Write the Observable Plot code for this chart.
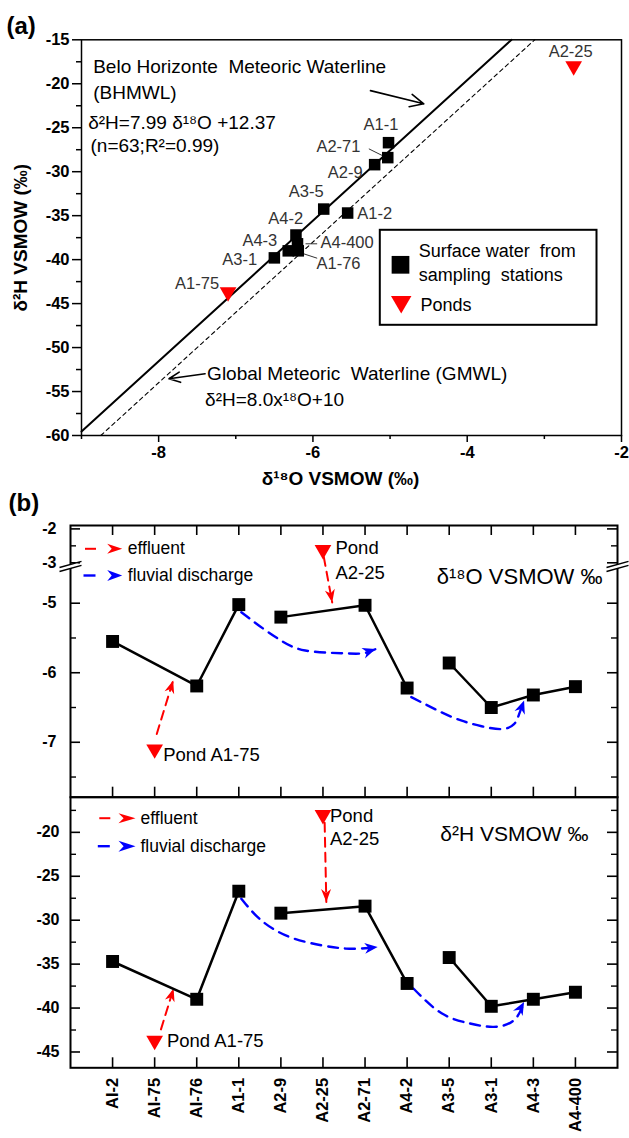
<!DOCTYPE html>
<html><head><meta charset="utf-8">
<script src="https://cdn.jsdelivr.net/npm/d3@7"></script>
<script src="https://cdn.jsdelivr.net/npm/@observablehq/plot@0.6"></script>
<style>
html,body{margin:0;padding:0;background:#fff;}
#fig{position:relative;width:629px;height:1138px;overflow:hidden;background:#fff;}
#fig svg{position:absolute;left:0;}
</style></head><body><div id="fig"></div>
<script>
// ===================== DATA =====================
const categories = ["AI-2","AI-75","AI-76","A1-1","A2-9","A2-25","A2-71","A4-2","A3-5","A3-1","A4-3","A4-400"];
const sampleNames = ["A1-2","A1-75","A1-76","A1-1","A2-9","A2-25","A2-71","A4-2","A3-5","A3-1","A4-3","A4-400"];
const sampleType = ["station","pond","station","station","station","pond","station","station","station","station","station","station"];
const d18O = [-5.55,-7.10,-6.19,-5.02,-5.20,-2.62,-5.03,-6.22,-5.86,-6.50,-6.32,-6.20];
const d2H  = [-34.7,-43.7,-39.0,-26.7,-29.2,-18.0,-28.4,-37.2,-34.25,-39.8,-39.0,-38.2];
const lineGroup = [1,null,1,1,2,null,2,2,3,3,3,3];

// meteoric water lines (from the equations printed on the chart)
const bhmwl = [7.99, 12.37];   // slope, intercept
const gmwl  = [8.0, 10];

// tick values
const xTicksA = [-8,-6,-4,-2], xMinorA = [-9,-7,-5,-3];
const yTicksA = [-15,-20,-25,-30,-35,-40,-45,-50,-55,-60];
const yMinorA = [-17.5,-22.5,-27.5,-32.5,-37.5,-42.5,-47.5,-52.5,-57.5];
const yTicksO = [-2,-3,-5,-6,-7], yMinorO = [-2.5,-5.5,-6.5,-7.5];
const yTicksH = [-20,-25,-30,-35,-40,-45], yMinorH = [-17.5,-22.5,-27.5,-32.5,-37.5,-42.5];

// broken δ18O axis: lower part, upper part
const axisO = {low: [-7.79, -4.486], high: [-3.05, -1.90]};

// panel (b) annotation paths: [category position, value]
const effluentO = [[[2.05,-6.88],[2.44,-6.11]], [[6.02,-2.83],[6.22,-4.99]]];
const fluvialO  = [[[4.06,-5.13],[4.5,-5.33],[5.01,-5.54],[5.58,-5.68],[6.44,-5.72],[6.96,-5.72],[7.25,-5.66]],
                   [[8.1,-6.35],[8.82,-6.57],[9.3,-6.69],[9.77,-6.77],[10.25,-6.81],[10.54,-6.74],[10.66,-6.6],[10.78,-6.40]]];
const effluentH = [[[2.15,-42.43],[2.45,-37.77]], [[6.04,-18.9],[6.08,-27.93]]];
const fluvialH  = [[[4.06,-27.55],[4.53,-30.0],[5.2,-31.9],[5.96,-32.85],[6.54,-33.23],[7.0,-33.2],[7.3,-33.05]],
                   [[8.15,-37.77],[8.82,-40.6],[9.49,-41.75],[10.06,-42.14],[10.54,-41.38],[10.78,-39.3]]];

// panel (a) annotation arrows / leader lines in data coordinates
const bhArrow = [[-5.254,-20.78],[-4.563,-22.28]];
const gmArrow = [[-7.398,-52.98],[-7.866,-53.55]];
const leaders = [[[-5.275,-27.40],[-5.101,-28.16]], [[-6.096,-38.2],[-5.945,-38.2]], [[-6.118,-39.34],[-5.945,-39.84]]];

// ===================== HELPERS =====================
const FONT = "'Liberation Sans', Arial, Helvetica, sans-serif";
const STYLE = {fontFamily: FONT, background: "transparent", overflow: "visible", color: "#000"};
const fig = document.getElementById("fig");
function place(svg, top){ svg.style.top = top + "px"; fig.appendChild(svg); }

const rows = categories.map((c, i) => ({cat: c, pos: i + 1, name: sampleNames[i], type: sampleType[i], o: d18O[i], h: d2H[i], g: lineGroup[i]}));
const stationRows = rows.filter(r => r.type === "station");
const pondRows = rows.filter(r => r.type === "pond");
const byName = n => rows.filter(r => r.name === n);

const triDown = {draw(ctx, size){ const y = Math.sqrt(size / (3 * Math.sqrt(3))); const s = Math.sqrt(3) * y;
  ctx.moveTo(0, 2 * y); ctx.lineTo(-s, -y); ctx.lineTo(s, -y); ctx.closePath(); }};
function headSymbol(theta, len, half, notch = 0.3) {
  const c = Math.cos(theta), s = Math.sin(theta);
  const P = (x, y) => [x * c - y * s, x * s + y * c];
  return {draw(ctx){ const p = [P(0,0), P(-len,-half), P(-len*(1-notch),0), P(-len,half)];
    ctx.moveTo(...p[0]); for (let k = 1; k < p.length; k++) ctx.lineTo(...p[k]); ctx.closePath(); }};
}
const dashSym = L => ({draw(ctx){ ctx.moveTo(-L/2, 0); ctx.lineTo(L/2, 0); }});
const breakFill = {draw(ctx){ ctx.moveTo(-7,0.2); ctx.lineTo(7,-3.8); ctx.lineTo(7,0.2); ctx.lineTo(-7,4.2); ctx.closePath(); }};
const breakLines = {draw(ctx){ ctx.moveTo(-11,1.6); ctx.lineTo(11,-4.6); ctx.moveTo(-11,5.6); ctx.lineTo(11,-0.6); }};

// ===================== PANEL (a) =====================
const A = {w: 629, h: 490, top: 39.3, bottom: 55, left: 81, right: 8};
const bhLine = [[-9, bhmwl[0] * -9 + bhmwl[1]], [(-15 - bhmwl[1]) / bhmwl[0], -15]];
const gmLine = [[(-60 - gmwl[1]) / gmwl[0], -60], [(-15 - gmwl[1]) / gmwl[0], -15]];
const labelPos = {
  "A1-2": ["start", 9.6, 5.8], "A1-75": ["end", -9, -3.4], "A1-76": ["start", 18.2, 18],
  "A1-1": ["middle", -7.5, -12.2], "A2-9": ["end", -12, 13.8], "A2-25": ["middle", -3, -9],
  "A2-71": ["end", -27.3, -5.4], "A4-2": ["middle", -10.2, -11.2], "A3-5": ["end", 0, -11.9],
  "A3-1": ["end", -17.2, 7.6], "A4-3": ["end", -11, -5.3], "A4-400": ["start", 23, 4.4]
};
const fa = (text, dx, dy, o = {}) => Plot.text([text], {frameAnchor: "top-left", dx, dy, textAnchor: "start", lineAnchor: "bottom", fontSize: 19, ...o});

const plotA = Plot.plot({
  width: A.w, height: A.h, marginTop: A.top, marginBottom: A.bottom, marginLeft: A.left, marginRight: A.right,
  x: {domain: [-9, -2], axis: null}, y: {domain: [-60, -15], axis: null},
  style: STYLE,
  marks: [
    Plot.frame({stroke: "#000", strokeWidth: 1.5}),
    Plot.axisY({ticks: yTicksA, tickSize: 9, tickPadding: 3, tickFormat: d => String(d), fontSize: 16.5, fontWeight: "bold", strokeWidth: 1.5, label: null}),
    Plot.axisY({ticks: yMinorA, tickSize: 5, tickFormat: () => "", strokeWidth: 1.5, label: null}),
    Plot.axisX({ticks: xTicksA, tickSize: 7, tickPadding: 4, tickFormat: d => String(d), fontSize: 16.5, fontWeight: "bold", strokeWidth: 1.5, label: null}),
    Plot.axisX({ticks: xMinorA, tickSize: 4, tickFormat: () => "", strokeWidth: 1.5, label: null}),
    Plot.line(gmLine, {x: d => d[0], y: d => d[1], stroke: "#000", strokeWidth: 1.1, strokeDasharray: "4,3.5"}),
    Plot.line(bhLine, {x: d => d[0], y: d => d[1], stroke: "#000", strokeWidth: 2}),
    Plot.arrow([bhArrow], {x1: d => d[0][0], y1: d => d[0][1], x2: d => d[1][0], y2: d => d[1][1], stroke: "#000", strokeWidth: 1.6, headLength: 14, headAngle: 50}),
    Plot.arrow([gmArrow], {x1: d => d[0][0], y1: d => d[0][1], x2: d => d[1][0], y2: d => d[1][1], stroke: "#000", strokeWidth: 1.6, headLength: 14, headAngle: 50}),
    Plot.link(leaders, {x1: d => d[0][0], y1: d => d[0][1], x2: d => d[1][0], y2: d => d[1][1], stroke: "#333", strokeWidth: 1}),
    fa("Belo Horizonte  Meteoric Waterline", 11.7, 33.4),
    fa("(BHMWL)", 11.7, 58.9),
    fa("δ²H=7.99 δ¹⁸O +12.37", 6.7, 89),
    fa("(n=63;R²=0.99)", 9, 112.4),
    fa("Global Meteoric  Waterline (GMWL)", 125.6, 340),
    fa("δ²H=8.0x¹⁸O+10", 123.6, 365.7),
    Plot.dot(stationRows, {x: "o", y: "h", symbol: "square", r: 6.5, fill: "#000"}),
    Plot.dot(pondRows, {x: "o", y: "h", symbol: triDown, r: 6.2, fill: "#ff0000"}),
    ...Object.entries(labelPos).map(([n, [anchor, dx, dy]]) =>
      Plot.text(byName(n), {x: "o", y: "h", text: "name", textAnchor: anchor, dx, dy, lineAnchor: "bottom", fontSize: 16.5, fill: "#333"})),
    // legend box
    Plot.frame({insetLeft: 298.3, insetRight: 25, insetTop: 190, insetBottom: 110.7, stroke: "#000", strokeWidth: 2, fill: "#fff"}),
    Plot.dot([0], {frameAnchor: "top-left", dx: 319, dy: 225, symbol: "square", r: 10, fill: "#000"}),
    Plot.dot([0], {frameAnchor: "top-left", dx: 319.7, dy: 262, symbol: triDown, r: 7.6, fill: "#ff0000"}),
    fa("Surface water  from", 337.3, 216.7, {fontSize: 18}),
    fa("sampling  stations", 337.3, 240.7, {fontSize: 18}),
    fa("Ponds", 339, 271.4, {fontSize: 18}),
    // titles
    Plot.text(["δ²H VSMOW (‰)"], {frameAnchor: "left", dx: -61, rotate: -90, textAnchor: "middle", lineAnchor: "middle", fontSize: 19, fontWeight: "bold"}),
    Plot.text(["δ¹⁸O VSMOW (‰)"], {frameAnchor: "bottom", dx: -11, dy: 49, textAnchor: "middle", lineAnchor: "bottom", fontSize: 19, fontWeight: "bold"}),
    Plot.text(["(a)"], {frameAnchor: "top-left", dx: -75, dy: -6, textAnchor: "start", lineAnchor: "bottom", fontSize: 24, fontWeight: "bold"})
  ]
});
place(plotA, 0);

// ===================== PANEL (b) =====================
const B = {left: 70, right: 12, w: 629};
const ppx = (B.w - B.right - B.left) / 13;
const positions = d3.range(1, 13);
const sxB = d3.scaleLinear([0, 13], [B.left, B.w - B.right]);

// upper (δ18O) with broken axis: values are placed on a continuous display axis
const U = {h: 330, top: 55, bottom: 3.3};
const gapUnits = 0.043;          // visual gap of the axis break (display units)
const highRatio = 0.4876;        // compression of the part above the break
const brk = v => {
  const [l0, l1] = axisO.low, [h0] = axisO.high;
  if (v <= l1) return v;
  if (v >= h0) return l1 + gapUnits + (v - h0) * highRatio;
  return l1 + gapUnits * (v - l1) / (h0 - l1);
};
const upperDom = [axisO.low[0], brk(axisO.high[1])];
const syO = d3.scaleLinear(upperDom, [U.h - U.bottom, U.top]);
const tickLabelO = new Map(yTicksO.map(v => [+brk(v).toFixed(6), String(v)]));
const breakPos = axisO.low[1] + gapUnits / 2;

// lower (δ2H)
const L = {h: 348, top: 6.7, bottom: 70.7};
const lowerDom = [-46.8, -16.0];
const syH = d3.scaleLinear(lowerDom, [L.h - L.bottom, L.top]);

function annotationMarks(effluent, fluvial, sy, fy) {
  const eRows = effluent.flatMap((p, id) => p.map(([x, y]) => ({id, x, y: fy(y)})));
  const fRows = fluvial.flatMap((p, id) => p.map(([x, y]) => ({id, x, y: fy(y)})));
  const heads = (paths, color, len, half) => paths.map(p => {
    const [a, b] = p.slice(-2);
    const th = Math.atan2(sy(fy(b[1])) - sy(fy(a[1])), sxB(b[0]) - sxB(a[0]));
    return Plot.dot([b], {x: d => d[0], y: d => fy(d[1]), symbol: headSymbol(th, len, half), r: 2, fill: color, stroke: "none"});
  });
  return [
    Plot.line(fRows, {x: "x", y: "y", z: "id", curve: "natural", stroke: "#0000ff", strokeWidth: 2.4, strokeDasharray: "10,7"}),
    ...heads(fluvial, "#0000ff", 13, 5.5),
    Plot.line(eRows, {x: "x", y: "y", z: "id", stroke: "#ff0000", strokeWidth: 2, strokeDasharray: "9,6"}),
    ...heads(effluent, "#ff0000", 13, 5)
  ];
}
function frameTicks(sy, majors, minors, yTop, yBottom, topTicks, bottomTicks) {
  const m = [];
  const tl = 10 / ppx, sl = 6 / ppx;
  m.push(Plot.ruleY(majors, {y: d => d, x1: 0, x2: tl, strokeWidth: 1.6}));
  m.push(Plot.ruleY(majors, {y: d => d, x1: 13 - tl, x2: 13, strokeWidth: 1.6}));
  m.push(Plot.ruleY(minors, {y: d => d, x1: 0, x2: sl, strokeWidth: 1.4}));
  m.push(Plot.ruleY(minors, {y: d => d, x1: 13 - sl, x2: 13, strokeWidth: 1.4}));
  if (topTicks) m.push(Plot.ruleX(positions, {x: d => d, y1: yTop, y2: sy.invert(sy(yTop) + 10), strokeWidth: 1.6}));
  if (bottomTicks) m.push(Plot.ruleX(positions, {x: d => d, y1: yBottom, y2: sy.invert(sy(yBottom) - 10), strokeWidth: 1.6}));
  return m;
}
const legendMarks = (ry, by, dashCx, tipX, textX, len) => [
  Plot.dot([0], {frameAnchor: "top-left", dx: dashCx, dy: ry, symbol: dashSym(11), r: 2, fill: "none", stroke: "#ff0000", strokeWidth: 2}),
  Plot.dot([0], {frameAnchor: "top-left", dx: tipX, dy: ry, symbol: headSymbol(0, len, 5), r: 2, fill: "#ff0000", stroke: "none"}),
  Plot.text(["effluent"], {frameAnchor: "top-left", dx: textX, dy: ry + 5.5, textAnchor: "start", lineAnchor: "bottom", fontSize: 17.5}),
  Plot.dot([0], {frameAnchor: "top-left", dx: dashCx - 1, dy: by, symbol: dashSym(12), r: 2, fill: "none", stroke: "#0000ff", strokeWidth: 2.4}),
  Plot.dot([0], {frameAnchor: "top-left", dx: tipX, dy: by, symbol: headSymbol(0, len, 5.5), r: 2, fill: "#0000ff", stroke: "none"}),
  Plot.text(["fluvial discharge"], {frameAnchor: "top-left", dx: textX, dy: by + 5.5, textAnchor: "start", lineAnchor: "bottom", fontSize: 17.5})
];

const id = v => v;
const upper = Plot.plot({
  width: B.w, height: U.h, marginTop: U.top, marginBottom: U.bottom, marginLeft: B.left, marginRight: B.right,
  x: {domain: [0, 13], axis: null},
  y: {domain: upperDom, axis: null},
  style: STYLE,
  marks: [
    Plot.frame({stroke: "#000", strokeWidth: 2}),
    Plot.axisY({ticks: yTicksO.map(brk), tickSize: 0, tickPadding: 14, tickFormat: d => tickLabelO.get(+d.toFixed(6)) ?? "", fontSize: 16, fontWeight: "bold", label: null}),
    ...frameTicks(syO, yTicksO.map(brk), yMinorO.map(brk), upperDom[1], upperDom[0], true, true),
    Plot.dot([0, 13], {x: d => d, y: () => breakPos, symbol: breakFill, r: 2, fill: "#fff", stroke: "none"}),
    Plot.dot([0, 13], {x: d => d, y: () => breakPos, symbol: breakLines, r: 2, fill: "none", stroke: "#000", strokeWidth: 1.5}),
    ...legendMarks(23.3, 50, 20, 51.7, 57.3, 15),
    Plot.text(["δ¹⁸O VSMOW ‰"], {frameAnchor: "top-right", dx: -15, dy: 58, textAnchor: "end", lineAnchor: "bottom", fontSize: 22}),
    ...annotationMarks(effluentO, fluvialO, syO, brk),
    Plot.line(stationRows, {x: "pos", y: d => brk(d.o), z: "g", stroke: "#000", strokeWidth: 2.5}),
    Plot.dot(stationRows, {x: "pos", y: d => brk(d.o), symbol: "square", r: 7.3, fill: "#000"}),
    Plot.dot(pondRows, {x: "pos", y: d => brk(d.o), symbol: triDown, r: 6.2, fill: "#ff0000"}),
    Plot.text(byName("A1-75"), {x: "pos", y: d => brk(d.o), text: () => "Pond A1-75", dx: 8.5, dy: 11.3, textAnchor: "start", lineAnchor: "bottom", fontSize: 18.5}),
    Plot.text(byName("A2-25"), {x: "pos", y: d => brk(d.o), text: () => "Pond", dx: 12.5, dy: 3.9, textAnchor: "start", lineAnchor: "bottom", fontSize: 18.5}),
    Plot.text(byName("A2-25"), {x: "pos", y: d => brk(d.o), text: () => "A2-25", dx: 12.5, dy: 28.9, textAnchor: "start", lineAnchor: "bottom", fontSize: 18.5}),
    Plot.text(["(b)"], {frameAnchor: "top-left", dx: -62, dy: -15, textAnchor: "start", lineAnchor: "bottom", fontSize: 24, fontWeight: "bold"})
  ]
});
place(upper, 470);

const lower = Plot.plot({
  width: B.w, height: L.h, marginTop: L.top, marginBottom: L.bottom, marginLeft: B.left, marginRight: B.right,
  x: {domain: [0, 13], axis: null},
  y: {domain: lowerDom, axis: null},
  style: STYLE,
  marks: [
    Plot.frame({stroke: "#000", strokeWidth: 2}),
    Plot.axisY({ticks: yTicksH, tickSize: 0, tickPadding: 11, tickFormat: d => String(d), fontSize: 16, fontWeight: "bold", label: null}),
    Plot.axisX({ticks: positions, tickSize: 0, tickPadding: 10, tickRotate: -90, tickFormat: i => categories[i - 1], fontSize: 16.5, fontWeight: "bold", label: null}),
    ...frameTicks(syH, yTicksH, yMinorH, lowerDom[1], lowerDom[0], false, true),
    ...legendMarks(21, 49, 34.3, 65, 70, 17),
    Plot.text(["δ²H VSMOW ‰"], {frameAnchor: "top-right", dx: -29, dy: 43.3, textAnchor: "end", lineAnchor: "bottom", fontSize: 21}),
    ...annotationMarks(effluentH, fluvialH, syH, id),
    Plot.line(stationRows, {x: "pos", y: "h", z: "g", stroke: "#000", strokeWidth: 2.5}),
    Plot.dot(stationRows, {x: "pos", y: "h", symbol: "square", r: 7.3, fill: "#000"}),
    Plot.dot(pondRows, {x: "pos", y: "h", symbol: triDown, r: 6.2, fill: "#ff0000"}),
    Plot.text(byName("A1-75"), {x: "pos", y: "h", text: () => "Pond A1-75", dx: 12.3, dy: 6.2, textAnchor: "start", lineAnchor: "bottom", fontSize: 18.5}),
    Plot.text(byName("A2-25"), {x: "pos", y: "h", text: () => "Pond", dx: 7, dy: 7.4, textAnchor: "start", lineAnchor: "bottom", fontSize: 18.5}),
    Plot.text(byName("A2-25"), {x: "pos", y: "h", text: () => "A2-25", dx: 7, dy: 30.7, textAnchor: "start", lineAnchor: "bottom", fontSize: 18.5})
  ]
});
place(lower, 790);
</script></body></html>
